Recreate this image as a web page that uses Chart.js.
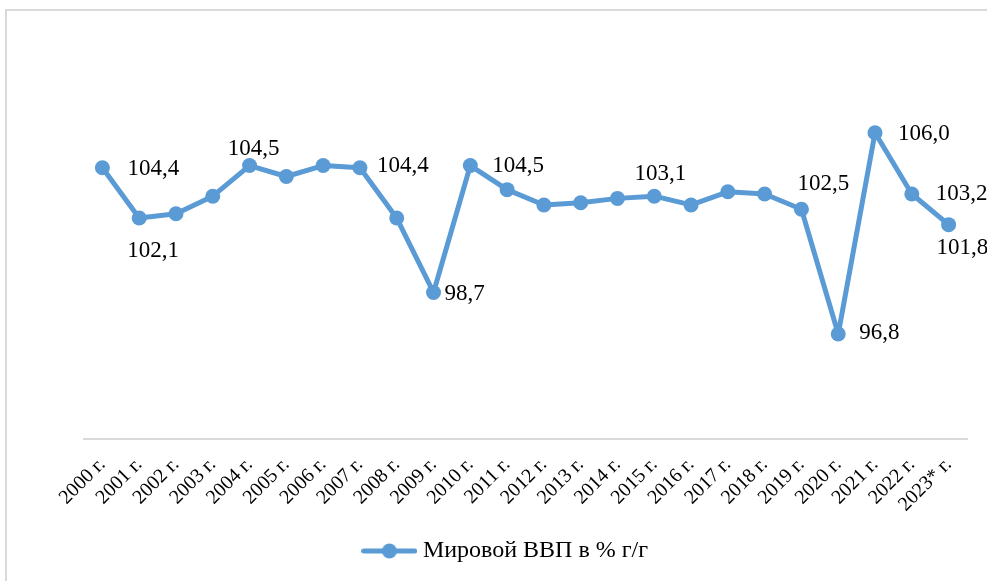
<!DOCTYPE html>
<html><head><meta charset="utf-8">
<script src="https://cdn.jsdelivr.net/npm/chart.js@4/dist/chart.umd.min.js"></script>
<style>
html,body{margin:0;padding:0;background:#fff;width:987px;height:581px;overflow:hidden;}
#frame{position:absolute;left:5px;top:9px;width:1100px;height:700px;border-left:2px solid #d9d9d9;border-top:2px solid #d9d9d9;}
#c{position:absolute;left:0;top:0;}
</style></head><body>
<div id="frame"></div>
<canvas id="c" width="987" height="581"></canvas>
<script>
const categories = ['2000 г.','2001 г.','2002 г.','2003 г.','2004 г.','2005 г.','2006 г.','2007 г.','2008 г.','2009 г.','2010 г.','2011 г.','2012 г.','2013 г.','2014 г.','2015 г.','2016 г.','2017 г.','2018 г.','2019 г.','2020 г.','2021 г.','2022 г.','2023* г.'];
const gdpValues = [104.4,102.1,102.3,103.1,104.5,104.0,104.5,104.4,102.1,98.7,104.5,103.4,102.7,102.8,103.0,103.1,102.7,103.3,103.2,102.5,96.8,106.0,103.2,101.8];
const labelledIndexes = [0,1,4,7,9,10,15,19,20,21,22,23];
const seriesName = 'Мировой ВВП в % г/г';

const COLOR = '#5b9bd5';
const SERIF = '"Liberation Serif", "Times New Roman", serif';

const labelPlacement = {
  0:{align:'left',dx:25,dy:1}, 1:{align:'center',dx:14,dy:33}, 4:{align:'center',dx:4,dy:-17},
  7:{align:'left',dx:17,dy:-2}, 9:{align:'left',dx:11,dy:2}, 10:{align:'left',dx:22,dy:0},
  15:{align:'center',dx:6,dy:-22}, 19:{align:'left',dx:-4,dy:-25}, 20:{align:'left',dx:21,dy:-1},
  21:{align:'left',dx:23,dy:1}, 22:{align:'left',dx:24,dy:0}, 23:{align:'left',dx:-12,dy:23}
};

function legendIcon(){
  const c = document.createElement('canvas');
  c.width = 56; c.height = 16;
  const x = c.getContext('2d');
  x.strokeStyle = COLOR; x.lineWidth = 5; x.lineCap = 'round';
  x.beginPath(); x.moveTo(2.5,8); x.lineTo(53.5,8); x.stroke();
  x.fillStyle = COLOR; x.beginPath(); x.arc(28,8,7.5,0,Math.PI*2); x.fill();
  return c;
}

const valueLabels = {
  id:'valueLabels',
  afterDatasetsDraw(chart){
    const meta = chart.getDatasetMeta(0);
    const ctx = chart.ctx;
    ctx.save();
    ctx.font = '23px ' + SERIF;
    ctx.fillStyle = '#000';
    ctx.textBaseline = 'middle';
    labelledIndexes.forEach(i => {
      const el = meta.data[i];
      const p = labelPlacement[i];
      const v = chart.data.datasets[0].data[i];
      ctx.textAlign = p.align;
      ctx.fillText(v.toFixed(1).replace('.', ','), el.x + p.dx, el.y + p.dy);
    });
    ctx.restore();
  }
};

const icon = legendIcon();
new Chart(document.getElementById('c'), {
  type:'line',
  data:{
    labels: categories,
    datasets:[{
      label: seriesName,
      data: gdpValues,
      borderColor: COLOR,
      backgroundColor: COLOR,
      borderWidth: 5,
      borderJoinStyle: 'round',
      borderCapStyle: 'round',
      pointRadius: 7.5,
      pointBorderWidth: 0,
      pointBackgroundColor: COLOR,
      tension: 0,
      fill: false
    }]
  },
  options:{
    responsive:false,
    animation:false,
    devicePixelRatio:1,
    layout:{padding:{left:49,right:20,top:89,bottom:8}},
    plugins:{
      tooltip:{enabled:false},
      legend:{
        position:'bottom',
        labels:{
          usePointStyle:true,
          pointStyleWidth:43,
          boxHeight:16,
          color:'#000',
          font:{family:SERIF,size:24},
          generateLabels:() => [{text:seriesName,pointStyle:icon,fillStyle:COLOR,strokeStyle:COLOR,lineWidth:0,hidden:false,datasetIndex:0,fontColor:'#000'}]
        }
      }
    },
    scales:{
      x:{
        offset:true,
        grid:{display:false},
        border:{display:true,color:'#d9d9d9',width:2},
        ticks:{color:'#000',font:{family:SERIF,size:20},minRotation:45,maxRotation:45,autoSkip:false,padding:6},
        afterFit:s => { s.height = 90; }
      },
      y:{
        min:92,max:108,
        grid:{display:false},
        border:{display:false},
        ticks:{display:false},
        afterFit:s => { s.width = 35; }
      }
    }
  },
  plugins:[valueLabels]
});
</script>
</body></html>
